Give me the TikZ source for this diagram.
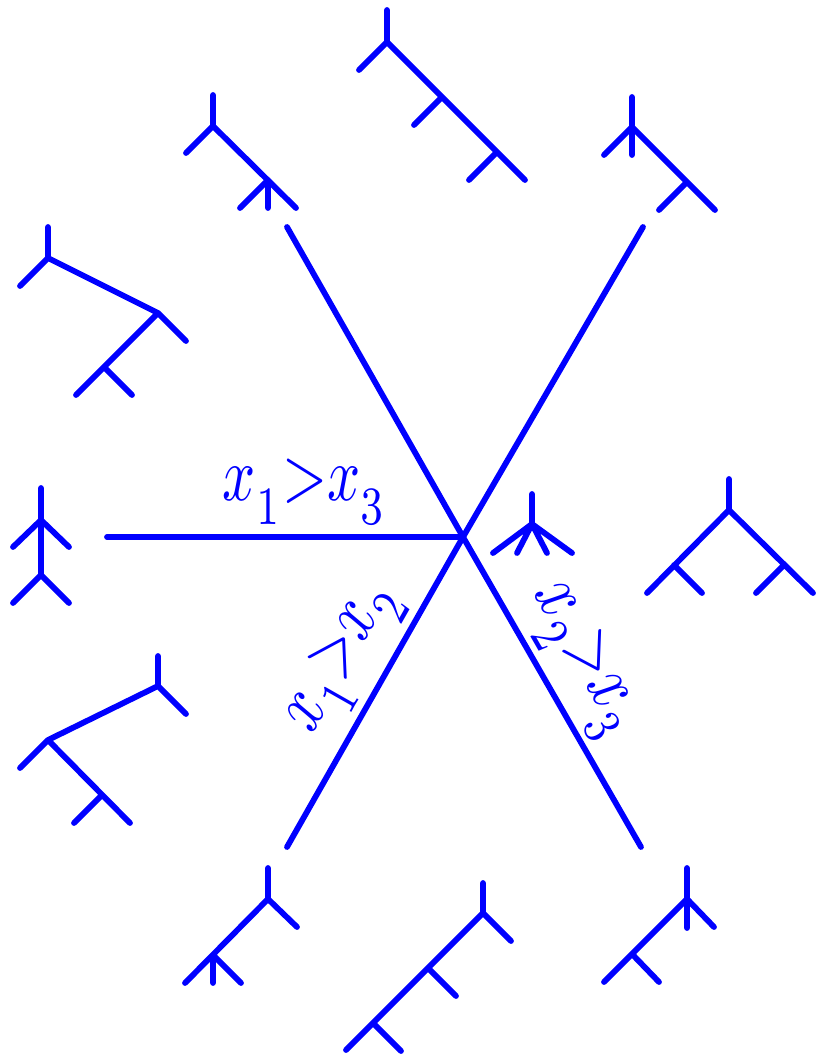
\documentclass[tikz,border=0pt]{standalone}
\usepackage{amsmath,amssymb}
\usepackage{xcolor}
\usepackage{graphicx}
\usepackage{tikz}

\newcommand{\lowsub}[1]{_{\raisebox{-1.6pt}{$\scriptstyle #1$}}}
\newcommand{\bigineq}[1]{\scalebox{5.8}[7.7]{$#1$}}

\begin{document}
\begin{tikzpicture}[
    x=1pt, y=-1pt,
    wall/.style={blue, line width=5.8pt, line cap=round},
    tree/.style={blue, line width=5.8pt, line cap=round, line join=round},
    ineq/.style={text=blue, inner sep=10pt, sloped}
]
    \useasboundingbox (0,0) rectangle (816,1056);

    % the three walls meeting in the centre
    \coordinate (c)  at (463,537);
    \coordinate (w)  at (107,537);
    \coordinate (nw) at (287,227);
    \coordinate (ne) at (643,227);
    \coordinate (sw) at (287,847);
    \coordinate (se) at (641,847);

    \draw[wall] (w)  -- node[ineq, pos=0.555, above] {\bigineq{x\lowsub{1}{>}x\lowsub{3}}} (c);
    \draw[wall] (sw) -- node[ineq, inner sep=7pt, pos=0.54, above]  {\bigineq{x\lowsub{1}{>}x\lowsub{2}}} (c);
    \draw[wall] (c)  -- node[ineq, inner sep=6pt, pos=0.465, above] {\bigineq{x\lowsub{2}{>}x\lowsub{3}}} (se);
    \draw[wall] (nw) -- (c);
    \draw[wall] (ne) -- (c);

    % trees round the fan
    \draw[tree] (213,95) -- (213,126) (186,153) -- (213,126) -- (296,208)
                (268,180) -- (240,208) (268,180) -- (268,208);
    \draw[tree] (387,10) -- (387,42) (359,70) -- (387,42) -- (525,180)
                (442,97) -- (414,125) (497,152) -- (469,180);
    \draw[tree] (632,97) -- (632,155) (604,155) -- (632,127) -- (715,210)
                (687,182) -- (659,210);
    \draw[tree] (48,227) -- (48,258) (20,286) -- (48,258) -- (158,313) -- (186,341)
                (158,313) -- (76,395) (104,367) -- (132,395);
    \draw[tree] (41,488) -- (41,575) (13,547) -- (41,520) -- (69,547)
                (13,603) -- (41,575) -- (69,603);
    \draw[tree] (532,494) -- (532,524)
                (493,553) -- (532,524) (517,553) -- (532,524)
                (547,553) -- (532,524) (572,553) -- (532,524);
    \draw[tree] (729,479) -- (729,510) (647,593) -- (729,510) -- (813,593)
                (674,565) -- (702,593) (784,565) -- (756,593);
    \draw[tree] (158,656) -- (158,686) -- (186,714) (158,686) -- (48,740)
                (20,768) -- (48,740) -- (130,823) (102,795) -- (74,823);
    \draw[tree] (268,868) -- (268,899) -- (297,927) (268,899) -- (185,983)
                (213,955) -- (213,983) (213,955) -- (241,983);
    \draw[tree] (483,883) -- (483,913) -- (511,941) (483,913) -- (346,1050)
                (428,968) -- (456,996) (373,1023) -- (401,1051);
    \draw[tree] (687,868) -- (687,928) (687,899) -- (714,927) (687,899) -- (604,982)
                (632,954) -- (659,982);
\end{tikzpicture}
\end{document}
